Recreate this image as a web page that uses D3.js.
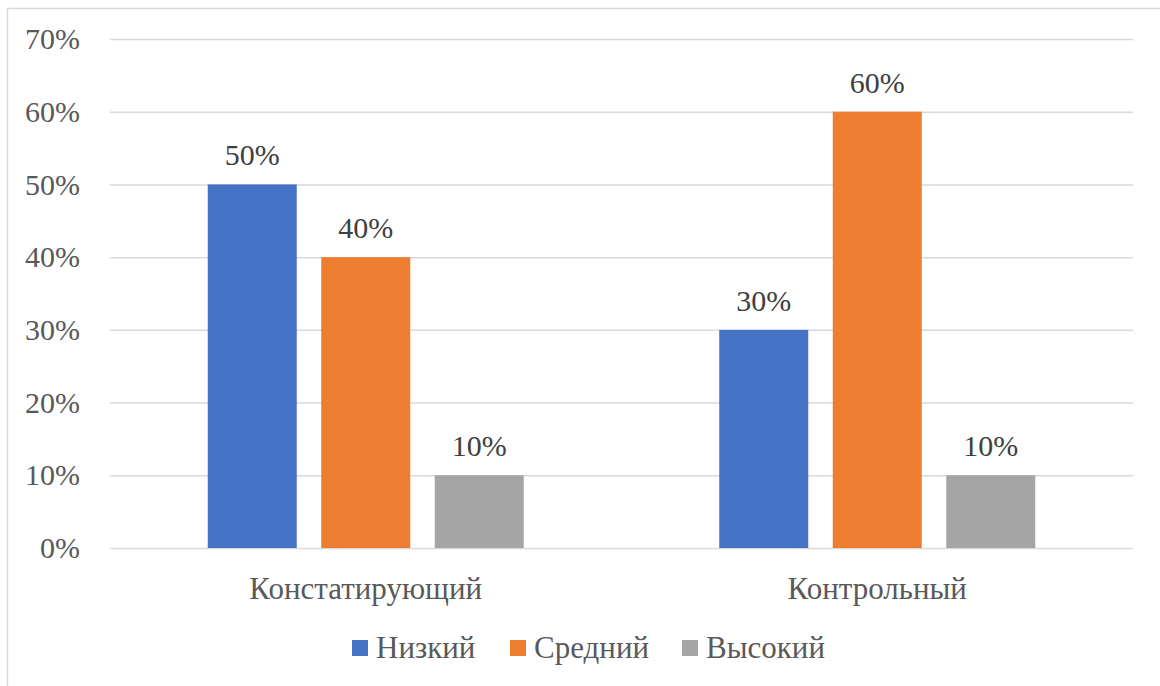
<!DOCTYPE html>
<html><head><meta charset="utf-8">
<script src="https://cdn.jsdelivr.net/npm/d3@7"></script>
<style>body{margin:0;background:#fff}svg{display:block}</style>
</head><body><svg id="c" width="1160" height="686"></svg>
<script>
const categories = ["Констатирующий", "Контрольный"];
const seriesNames = ["Низкий", "Средний", "Высокий"];
const seriesColors = ["#4472C4", "#ED7D31", "#A5A5A5"];
const low = [0.5, 0.3];
const mid = [0.4, 0.6];
const high = [0.1, 0.1];
const tickValues = [0, 0.1, 0.2, 0.3, 0.4, 0.5, 0.6, 0.7];
const seriesValues = [low, mid, high];

const svg = d3.select("#c");
const FF = "Liberation Serif";
svg.append("rect").attr("x", 7.5).attr("y", 8.5).attr("width", 1200).attr("height", 700)
  .attr("fill", "#fff").attr("stroke", "#d9d9d9").attr("stroke-width", 1.5);

const L = 110, R = 1133, T = 39, B = 548;
const x0 = d3.scaleBand().domain(categories).range([L, R]).paddingInner(0).paddingOuter(0);
const y = d3.scaleLinear().domain([0, 0.7]).range([B, T]);
const barW = 89, gap = 24.5;
const x1 = d3.scaleBand().domain(seriesNames)
  .range([-(3 * barW + 2 * gap) / 2, (3 * barW + 2 * gap) / 2]).paddingInner(gap / (barW + gap)).paddingOuter(0);

function txt(sel, fs) { return sel.attr("font-family", FF).attr("font-size", fs); }

const yAxis = d3.axisLeft(y).tickValues(tickValues).tickSize(-(R - L)).tickFormat(d3.format(".0%"));
const ga = svg.append("g").attr("transform", `translate(${L},0)`).call(yAxis);
ga.select(".domain").remove();
ga.selectAll(".tick line").attr("stroke", "#d9d9d9").attr("stroke-width", 1.5);
txt(ga.selectAll(".tick text"), 30).attr("x", -30).attr("fill", "#595959");

const groups = svg.append("g").selectAll("g").data(categories).join("g")
  .attr("transform", c => `translate(${x0(c) + x0.bandwidth() / 2},0)`);
groups.each(function (c, ci) {
  const g = d3.select(this);
  seriesNames.forEach((s, si) => {
    const v = seriesValues[si][ci];
    g.append("rect").attr("x", x1(s)).attr("width", x1.bandwidth())
      .attr("y", y(v)).attr("height", y(0) - y(v)).attr("fill", seriesColors[si]);
    txt(g.append("text"), 30).attr("x", x1(s) + x1.bandwidth() / 2).attr("y", y(v) - 19)
      .attr("text-anchor", "middle").attr("fill", "#404040").text(d3.format(".0%")(v));
  });
  txt(g.append("text"), 31).attr("x", 0).attr("y", 599).attr("text-anchor", "middle")
    .attr("fill", "#595959").text(c);
});

const legendX = [352, 510, 682];
const lg = svg.append("g");
seriesNames.forEach((s, i) => {
  lg.append("rect").attr("x", legendX[i]).attr("y", 640).attr("width", 16).attr("height", 16).attr("fill", seriesColors[i]);
  txt(lg.append("text"), 31).attr("x", legendX[i] + 24).attr("y", 658).attr("fill", "#595959").text(s);
});
</script></body></html>
